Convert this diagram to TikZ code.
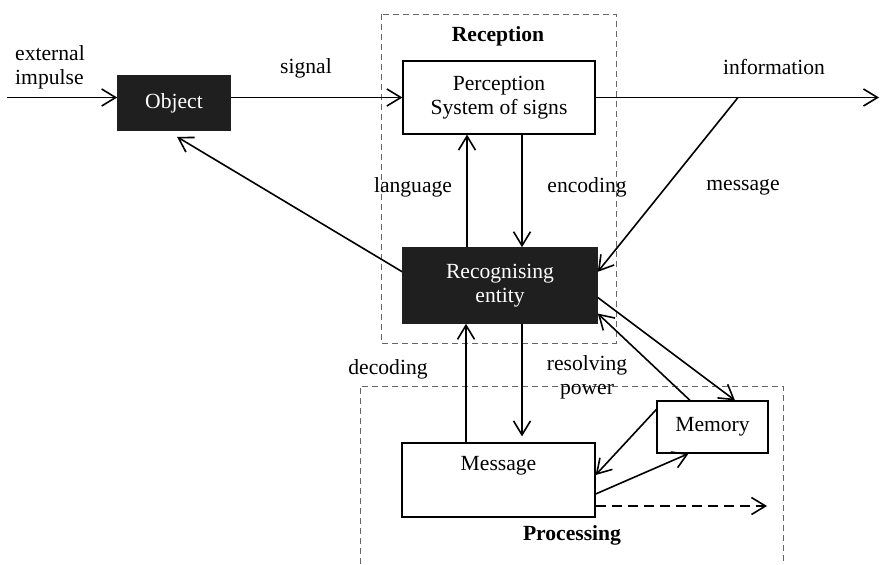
\documentclass[tikz,border=0pt]{standalone}
\usepackage{fontspec}
\setmainfont{Liberation Serif}
\usetikzlibrary{arrows.meta}
\begin{document}
\begin{tikzpicture}[x=0.5pt,y=-0.5pt,
    font=\fontsize{10.8}{12}\selectfont,
    line width=0.8pt,
    >={Straight Barb[length=7pt,width=8.5pt]},
    darkbox/.style={fill=black!88,draw=black!88,text=white,inner sep=0pt,align=center},
    lightbox/.style={draw,line width=0.6pt,fill=white,inner sep=0pt,align=center},
    frame/.style={dashed,line width=0.5pt,gray!80!black,dash pattern=on 3pt off 2pt}]
    \useasboundingbox (0,0) rectangle (881,564);
      % dashed frames
      \draw[frame] (381,14) rectangle (616,343);
      \draw[frame] (360,564) -- (360,386) -- (783,386) -- (783,564);
      \node[font=\fontsize{10.8}{12}\selectfont\bfseries] (recep) at (498,36) {Reception};
      \node[font=\fontsize{10.8}{12}\selectfont\bfseries] (proc) at (572,535) {Processing};
      % boxes
      \node[darkbox,minimum width=56pt,minimum height=27pt] (obj) at (174,103) {Object};
      \node[lightbox,minimum width=96pt,minimum height=36.5pt] (perc) at (499,97.5) {Perception\\System of signs};
      \node[darkbox,minimum width=97pt,minimum height=37.5pt] (rec) at (500,285.5) {Recognising\\entity};
      \node[lightbox,minimum width=96.5pt,minimum height=37pt] (msg) at (498.5,480) {};
      \node (msgtxt) at (498.5,466) {Message};
      \node[lightbox,minimum width=55.5pt,minimum height=26pt] (mem) at (712.5,427) {Memory};
      \coordinate (ext) at (7,97.5);
      \coordinate (out) at (879,97.5);
      \coordinate (split) at (738,97.5);
      \coordinate (next) at (767,506);
      % top line
      \draw[->] (ext) -- (ext -| obj.west);
      \draw[->] (obj.east |- perc.west) -- (perc.west);
      \draw[->] (perc.east) -- (out);
      \draw[->] (split) -- (rec.8.5);
      \draw[->] (rec.172.7) -- ([xshift=1.5pt,yshift=-3pt]obj.south);
      % reception
      \draw[->] ([xshift=-16.5pt]rec.north) -- ([xshift=-16pt]perc.south);
      \draw[->] ([xshift=11.5pt]perc.south) -- ([xshift=11pt]rec.north);
      % processing
      \draw[->] ([xshift=-16.25pt]msg.north) -- ([xshift=-17pt]rec.south);
      \draw[->] ([xshift=11pt]rec.south) -- ([xshift=11.75pt,yshift=3pt]msg.north);
      \draw[->] (rec.-7.3) -- ([xshift=11.25pt]mem.north);
      \draw[->] ([xshift=-11.25pt]mem.north) -- (rec.-16.4);
      \draw[->] ([yshift=-4.5pt]mem.north west) -- ([yshift=2.5pt]msg.east);
      \draw[->] ([yshift=-7pt]msg.east) -- ([xshift=-12pt]mem.south);
      \draw[->,dashed,dash pattern=on 5pt off 3pt] ([yshift=-13pt]msg.east) -- (next);
      % labels
      \node[align=left] (imp) at (50,67) {external\\impulse};
      \node (sig) at (306,68) {signal};
      \node (inf) at (774,67) {information};
      \node (lang) at (413,187) {language};
      \node (enc) at (587,187) {encoding};
      \node (mes) at (743,187) {message};
      \node (dec) at (388,369) {decoding};
      \node[align=center] (res) at (587,377) {resolving\\power};
\end{tikzpicture}
\end{document}
